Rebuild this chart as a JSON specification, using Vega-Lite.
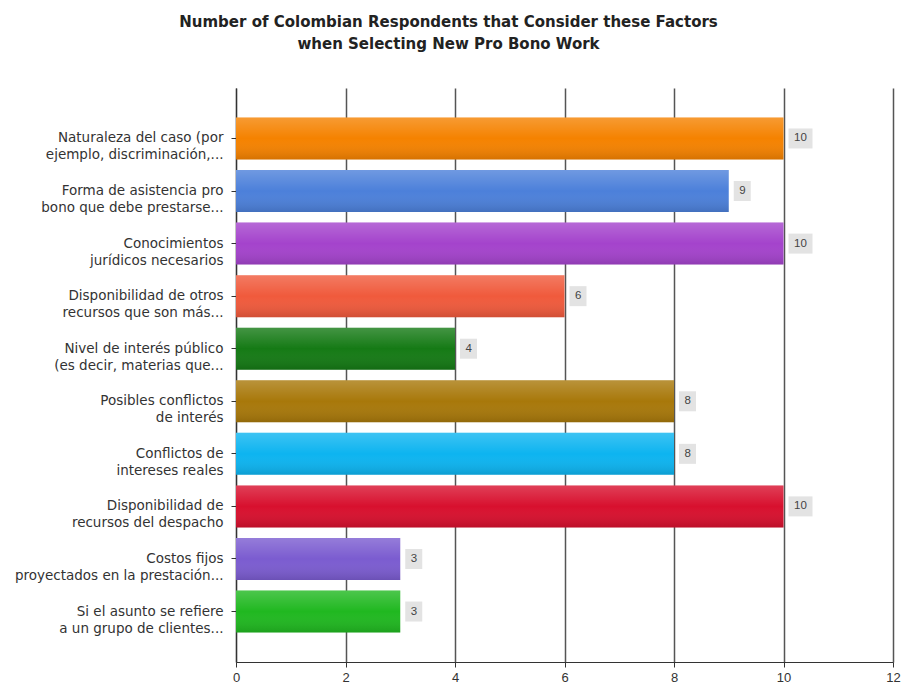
{
  "$schema": "https://vega.github.io/schema/vega-lite/v6.json",
  "width": 657,
  "height": 574,
  "autosize": "none",
  "padding": {"left": 236, "top": 88, "right": 11, "bottom": 27},
  "background": "white",
  "config": {"view": {"stroke": null}, "font": "Liberation Sans"},
  "title": {
    "text": ["Number of Colombian Respondents that Consider these Factors", "when Selecting New Pro Bono Work"],
    "font": "DejaVu Sans",
    "fontSize": 15,
    "fontWeight": "bold",
    "color": "#222",
    "lineHeight": 22,
    "anchor": "middle",
    "frame": "group",
    "dx": -116,
    "offset": 36
  },
  "data": {
    "values": [
      {"label": "Naturaleza del caso (por|ejemplo, discriminación,...", "value": 10, "color": "#F58200"},
      {"label": "Forma de asistencia pro|bono que debe prestarse...", "value": 9, "color": "#4C80DA"},
      {"label": "Conocimientos|jurídicos necesarios", "value": 10, "color": "#A443CC"},
      {"label": "Disponibilidad de otros|recursos que son más...", "value": 6, "color": "#F05A3C"},
      {"label": "Nivel de interés público|(es decir, materias que...", "value": 4, "color": "#157A15"},
      {"label": "Posibles conflictos|de interés", "value": 8, "color": "#A8780A"},
      {"label": "Conflictos de|intereses reales", "value": 8, "color": "#0DB4F0"},
      {"label": "Disponibilidad de|recursos del despacho", "value": 10, "color": "#D8102E"},
      {"label": "Costos fijos|proyectados en la prestación...", "value": 3, "color": "#7B5CD0"},
      {"label": "Si el asunto se refiere|a un grupo de clientes...", "value": 3, "color": "#20B820"}
    ]
  },
  "encoding": {
    "y": {
      "field": "label",
      "type": "nominal",
      "sort": null,
      "scale": {"paddingInner": 0.2, "paddingOuter": 0.56},
      "axis": {
        "title": null,
        "labelExpr": "split(datum.label, '|')",
        "labelFont": "DejaVu Sans",
        "labelFontSize": 13.5,
        "labelColor": "#333",
        "labelLineHeight": 17,
        "labelLimit": 300,
        "labelPadding": 8,
        "tickSize": 5,
        "tickColor": "#333",
        "domainColor": "#333",
        "domainWidth": 1.2,
        "grid": false
      }
    }
  },
  "layer": [
    {
      "mark": {"type": "bar"},
      "encoding": {
        "x": {
          "field": "value",
          "type": "quantitative",
          "scale": {"domain": [0, 12]},
          "axis": {
            "title": null,
            "values": [0, 2, 4, 6, 8, 10, 12],
            "format": "d",
            "labelFlush": false,
            "labelFontSize": 13,
            "labelColor": "#333",
            "labelPadding": 4,
            "tickSize": 5,
            "tickColor": "#333",
            "domainColor": "#333",
            "domainWidth": 1.2,
            "grid": true,
            "gridColor": "#555",
            "gridWidth": 1.5
          }
        },
        "color": {"field": "color", "type": "nominal", "scale": null, "legend": null}
      }
    },
    {
      "mark": {
        "type": "bar",
        "color": {
          "gradient": "linear",
          "x1": 0, "y1": 0, "x2": 0, "y2": 1,
          "stops": [
            {"offset": 0, "color": "rgba(255,255,255,0.2)"},
            {"offset": 0.5, "color": "rgba(255,255,255,0)"},
            {"offset": 1, "color": "rgba(0,0,0,0.13)"}
          ]
        }
      },
      "encoding": {"x": {"field": "value", "type": "quantitative"}}
    },
    {
      "transform": [{"filter": "datum.value >= 10"}],
      "mark": {"type": "bar", "color": "#e3e3e3", "height": 20, "xOffset": 5, "x2Offset": 29},
      "encoding": {"x": {"field": "value", "type": "quantitative"}, "x2": {"field": "value"}}
    },
    {
      "transform": [{"filter": "datum.value < 10"}],
      "mark": {"type": "bar", "color": "#e3e3e3", "height": 20, "xOffset": 5, "x2Offset": 22},
      "encoding": {"x": {"field": "value", "type": "quantitative"}, "x2": {"field": "value"}}
    },
    {
      "mark": {"type": "text", "align": "left", "baseline": "middle", "dx": 10.5, "fontSize": 11.5, "color": "#444"},
      "encoding": {
        "x": {"field": "value", "type": "quantitative"},
        "text": {"field": "value", "type": "quantitative"}
      }
    }
  ]
}
